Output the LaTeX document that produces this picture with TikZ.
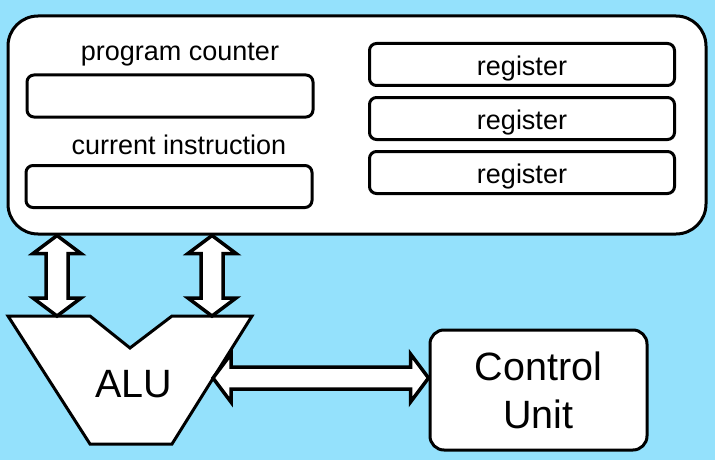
\documentclass[tikz,border=0pt]{standalone}
\usepackage{fontspec}
\setmainfont{Liberation Sans}
\usetikzlibrary{calc}
\definecolor{bg}{RGB}{148,225,252}
\tikzset{
  box/.style={draw, line width=3pt, fill=white},
  reg/.style={box, rounded corners=7pt, minimum width=305pt, minimum height=42pt,
    inner sep=0pt, text height=22pt, text depth=0pt, font=\fontsize{27}{30}\selectfont},
  slot/.style={box, rounded corners=7pt, minimum width=286pt, minimum height=42pt, inner sep=0pt},
  lbl/.style={anchor=base, inner sep=0pt, font=\fontsize{27}{30}\selectfont},
  bus/.style={draw, line width=3.5pt, fill=white, line join=miter, miter limit=10},
}
% vertical double arrow: #1 top tip, #2 bottom tip
\newcommand\vbus[2]{%
  \path[bus] let \p1=(#1), \p2=(#2) in
  (\x1,\y1) -- (\x1+24pt,\y1-18pt) -- (\x1+11pt,\y1-18pt) -- (\x1+11pt,\y2+18pt)
  -- (\x1+24pt,\y2+18pt) -- (\x1,\y2) -- (\x1-24pt,\y2+18pt) -- (\x1-11pt,\y2+18pt)
  -- (\x1-11pt,\y1-18pt) -- (\x1-24pt,\y1-18pt) -- cycle;}
% horizontal double arrow: #1 left tip, #2 right tip
\newcommand\hbus[2]{%
  \path[bus] let \p1=(#1), \p2=(#2) in
  (\x1,\y1) -- (\x1+18pt,\y1+24pt) -- (\x1+18pt,\y1+11pt) -- (\x2-18pt,\y1+11pt)
  -- (\x2-18pt,\y1+24pt) -- (\x2,\y1) -- (\x2-18pt,\y1-24pt) -- (\x2-18pt,\y1-11pt)
  -- (\x1+18pt,\y1-11pt) -- (\x1+18pt,\y1-24pt) -- cycle;}
\begin{document}
\begin{tikzpicture}[x=1pt,y=-1pt]
\fill[bg] (0,0) rectangle (715,460);
\useasboundingbox (0,0) rectangle (715,460);

% CPU box
\node[box, rounded corners=30pt, minimum width=698pt, minimum height=218pt] (cpu) at (357,125) {};

\node[lbl] (pcl) at (180,60) {program counter};
\node[slot] (pc) at (170,96) {};
\node[lbl] (cil) at (179,154) {current instruction};
\node[slot] (ci) at (169,186.5) {};

\node[reg] (r1) at (522,64.5) {register};
\node[reg] (r2) at (522,118.5) {register};
\node[reg] (r3) at (522,172.5) {register};

% ALU
\draw[line width=3pt, fill=white, line join=miter]
  (8,316) -- (90,316) -- (130,348) -- (172,316) -- (252,316) -- (172,444) -- (90,444) -- cycle;
\node[anchor=base, inner sep=0pt, font=\fontsize{39.5}{45}\selectfont] (alu) at (134,397) {ALU};
\coordinate (aluA) at (57,316);
\coordinate (aluB) at (212,316);
\coordinate (aluR) at (213,378);

% Control unit
\node[box, rounded corners=14pt, minimum width=217pt, minimum height=120pt, align=center,
  font=\fontsize{39.5}{48}\selectfont] (cu) at (538.5,390) {Control\\Unit};

% buses
\vbus{cpu.south -| aluA}{aluA}
\vbus{cpu.south -| aluB}{aluB}
\hbus{aluR}{cu.west |- aluR}
\end{tikzpicture}
\end{document}
